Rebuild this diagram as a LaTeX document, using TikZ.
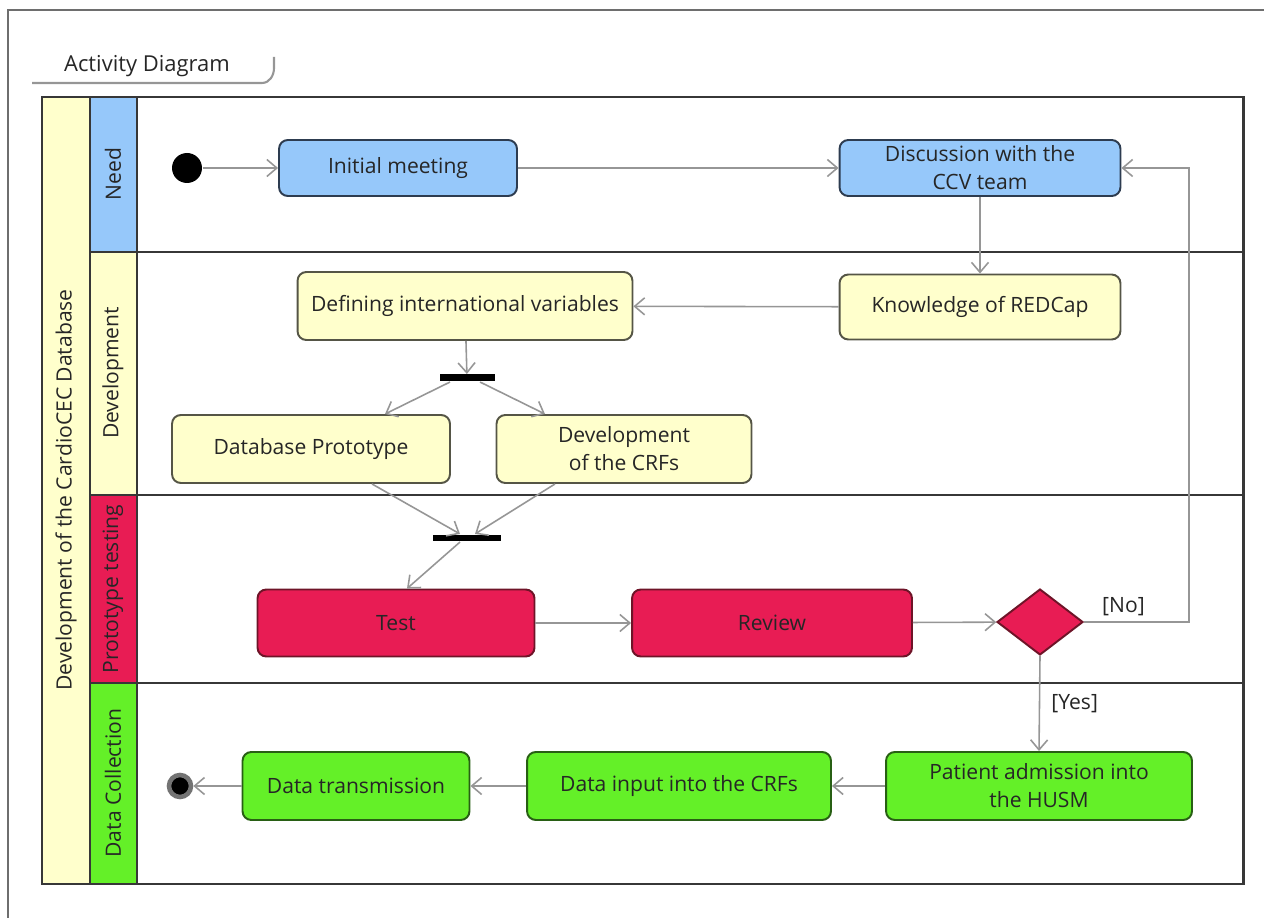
\documentclass[tikz,border=0pt]{standalone}
\usepackage{fontspec}
\setmainfont{Open Sans}
\usetikzlibrary{arrows.meta,shapes.geometric}
\definecolor{frame_gray}{RGB}{110,110,110}
\definecolor{lane_line}{RGB}{55,55,55}
\definecolor{edge_gray}{RGB}{150,150,150}
\definecolor{node_blue}{RGB}{150,200,250}
\definecolor{edge_blue}{RGB}{45,60,80}
\definecolor{node_yell}{RGB}{255,255,204}
\definecolor{edge_yell}{RGB}{85,85,70}
\definecolor{node_red}{RGB}{232,28,84}
\definecolor{edge_red}{RGB}{110,20,40}
\definecolor{node_green}{RGB}{100,240,40}
\definecolor{edge_green}{RGB}{40,95,20}

\begin{document}
\begin{tikzpicture}[x=0.02cm,y=-0.02cm,semithick,>={Straight Barb[length=2mm,width=3.4mm]}]
    \tikzstyle{txt}=[text=black!85,font=\fontsize{12}{16}\selectfont]
    \tikzstyle{act}=[style=txt,draw,rounded corners=5pt,line width=1.1pt,align=center,inner sep=0pt]
    \tikzstyle{need}=[style=act,fill=node_blue,draw=edge_blue]
    \tikzstyle{dev}=[style=act,fill=node_yell,draw=edge_yell]
    \tikzstyle{proto}=[style=act,fill=node_red,draw=edge_red]
    \tikzstyle{coll}=[style=act,fill=node_green,draw=edge_green]
    \tikzstyle{bar}=[fill=black,inner sep=0pt,minimum height=0.14cm]
    \tikzstyle{flow}=[->,draw=edge_gray,line width=0.9pt]
    \tikzstyle{lane}=[draw=lane_line,line width=1.7pt]

    \useasboundingbox (0,0) rectangle (1264,918);
    % outer frame and tab
    \draw[frame_gray,line width=0.6pt] (8,918) -- (8,10) -- (1264,10);
    \draw[edge_gray,line width=1.2pt] (32,83) -- (262,83) to[out=0,in=-90] (274,68) -- (274,57);
    \node[txt,font=\fontsize{12.5}{15}\selectfont] (title) at (147,66) {Activity Diagram};

    % swimlanes
    \fill[node_yell] (42,97) rectangle (90,884);
    \fill[node_blue] (90,97) rectangle (137,252);
    \fill[node_yell] (90,252) rectangle (137,495);
    \fill[node_red] (90,495) rectangle (137,683);
    \fill[node_green] (90,683) rectangle (137,884);
    \draw[lane] (42,97) rectangle (1243,884);
    \draw[lane] (90,97) -- (90,884);
    \draw[lane] (137,97) -- (137,884);
    \draw[lane] (90,252) -- (1243,252);
    \draw[lane] (90,495) -- (1243,495);
    \draw[lane] (90,683) -- (1243,683);
    \node[txt,rotate=90] (db)  at (66,490)  {Development of the CardioCEC Database};
    \node[txt,rotate=90] (ln1) at (113,174) {Need};
    \node[txt,rotate=90] (ln2) at (113,373) {Development};
    \node[txt,rotate=90] (ln3) at (113,589) {Prototype testing};
    \node[txt,rotate=90] (ln4) at (113,783) {Data Collection};

    % activities
    \node[circle,fill=black,minimum size=0.6cm,inner sep=0pt] (start) at (187,168) {};
    \node[need,minimum width=4.76cm,minimum height=1.12cm] (meet) at (398,168) {Initial meeting};
    \node[need,minimum width=5.62cm,minimum height=1.12cm] (disc) at (980,168) {Discussion with the\\CCV team};
    \node[dev,minimum width=5.62cm,minimum height=1.30cm] (redcap) at (980,307) {Knowledge of REDCap};
    \node[dev,minimum width=6.70cm,minimum height=1.36cm] (vars) at (465,306) {Defining international variables};
    \node[bar,minimum width=1.10cm] (fork) at (467,378) {};
    \node[dev,minimum width=5.56cm,minimum height=1.36cm] (proto) at (311,449) {Database Prototype};
    \node[dev,minimum width=5.10cm,minimum height=1.36cm] (crf) at (624,449) {Development\\of the CRFs};
    \node[bar,minimum width=1.36cm] (join) at (467,538) {};
    \node[proto,minimum width=5.54cm,minimum height=1.34cm] (test) at (396,623) {Test};
    \node[proto,minimum width=5.60cm,minimum height=1.34cm] (review) at (772,623) {Review};
    \node[diamond,fill=node_red,draw=edge_red,line width=1.1pt,inner sep=0pt,
          minimum width=1.72cm,minimum height=1.32cm] (dec) at (1040,622) {};
    \node[coll,minimum width=6.12cm,minimum height=1.36cm] (adm) at (1039,786) {Patient admission into\\the HUSM};
    \node[coll,minimum width=6.08cm,minimum height=1.36cm] (input) at (679,786) {Data input into the CRFs};
    \node[coll,minimum width=4.54cm,minimum height=1.36cm] (trans) at (356,786) {Data transmission};
    \node[circle,fill=black,draw=black!55,line width=2.6pt,minimum size=0.44cm,inner sep=0pt] (stop) at (180,786) {};

    % flows
    \path
     (start) edge[flow] (meet)
     (meet) edge[flow] (disc)
     (disc) edge[flow] (redcap)
     (redcap) edge[flow] (vars)
     (vars) edge[flow] (fork)
     (test) edge[flow] (review)
     (review) edge[flow] (dec)
     (adm) edge[flow] (input)
     (input) edge[flow] (trans)
     (trans) edge[flow] (stop)
     ;
    \draw[flow] ([xshift=-0.34cm]fork.south) -- ([xshift=1.48cm]proto.north);
    \draw[flow] ([xshift=0.26cm]fork.south) -- ([xshift=-1.58cm]crf.north);
    \draw[flow] ([xshift=1.22cm]proto.south) -- ([xshift=-0.14cm]join.north);
    \draw[flow] ([xshift=-1.38cm]crf.south) -- ([xshift=0.16cm]join.north);
    \draw[flow] ([xshift=-0.14cm]join.south) -- ([xshift=0.22cm]test.north);
    \draw[flow] (dec.east) -- node[above,xshift=-0.26cm,txt] {[No]} ++(105,0) |- (disc.east);
    \draw[flow] (dec.south) -- (adm.north) node[midway,right=3pt,txt] {[Yes]};
\end{tikzpicture}
\end{document}
